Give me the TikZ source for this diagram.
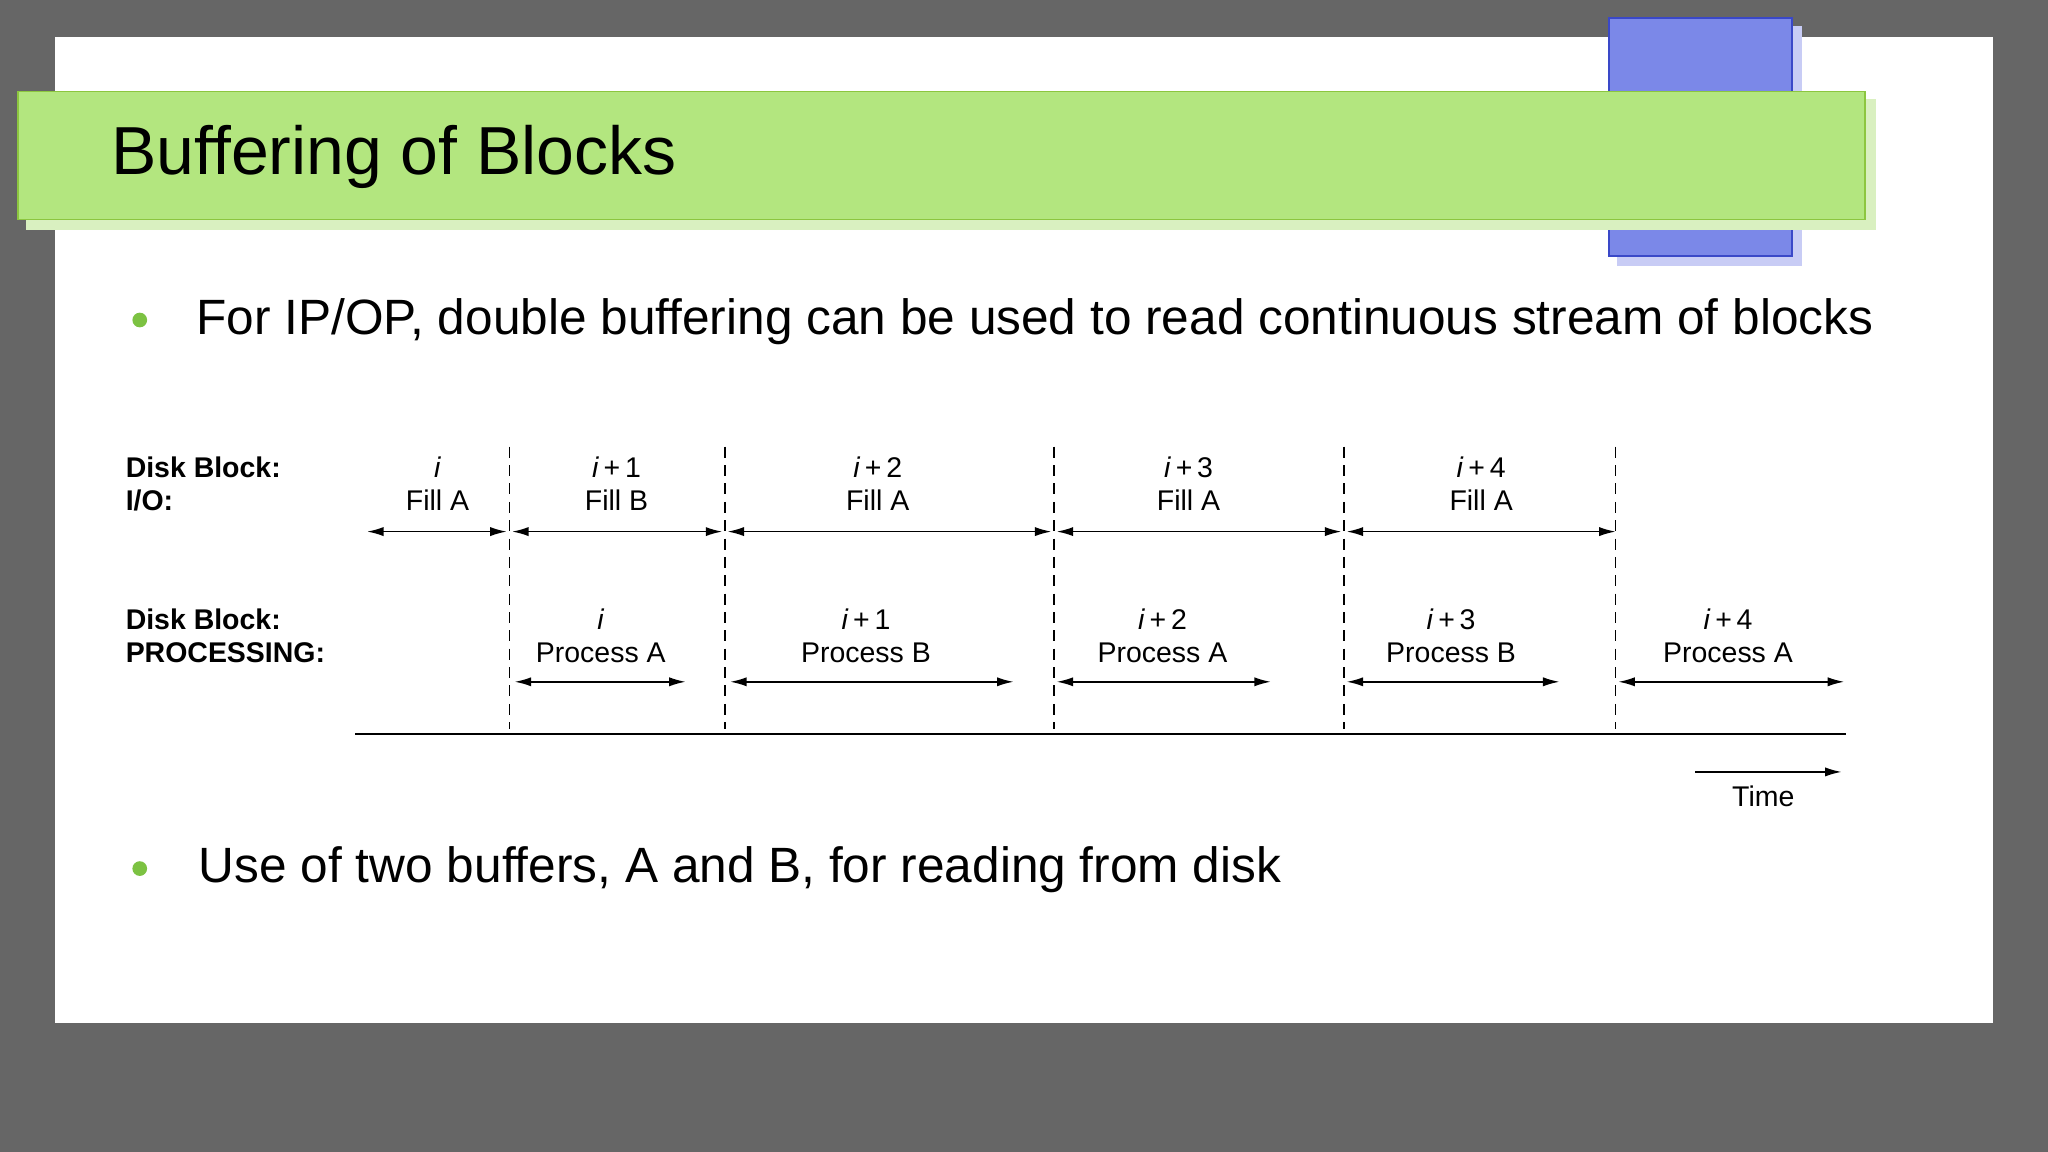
\documentclass[tikz,border=0pt]{standalone}
\usepackage{fontspec}
\setmainfont{Liberation Sans}
\usetikzlibrary{arrows.meta}
\definecolor{bgray}{HTML}{666666}
\definecolor{bgreen}{HTML}{B3E67F}
\definecolor{bgreenb}{HTML}{8CC63F}
\definecolor{bgreens}{HTML}{D9F0C0}
\definecolor{bblue}{HTML}{7B88E8}
\definecolor{bblueb}{HTML}{3A48C8}
\definecolor{bblues}{HTML}{C8CCF5}
\definecolor{dot}{HTML}{7CC242}
\tikzset{
  lbl/.style={font=\fontsize{15.5pt}{17pt}\selectfont, inner sep=0pt},
  it/.style={font=\fontsize{15.5pt}{17pt}\selectfont\itshape, inner sep=0pt},
  dur/.style={{Latex[length=9pt,width=5pt]}-{Latex[length=9pt,width=5pt]}, line width=0.9pt},
  sep/.style={dashed, line width=0.8pt, dash pattern=on 6pt off 4pt},
  bul/.style={font=\fontsize{27pt}{30pt}\selectfont, inner sep=0pt, anchor=west},
}
\begin{document}
\begin{tikzpicture}[x=0.025cm,y=-0.025cm]
\useasboundingbox (0,0) rectangle (1568,882);
\fill[bgray] (0,0) rectangle (1568,882);
\fill[white] (42,28) rectangle (1526,783);
% blue square
\fill[bblues] (1238,20) rectangle (1380,204);
\draw[bblueb, fill=bblue, line width=1pt] (1232,14) rectangle (1372,196);
% green banner
\fill[bgreens] (20,76) rectangle (1436,176);
\draw[bgreenb, fill=bgreen, line width=1pt] (14,70) rectangle (1428,168);
\node[anchor=west, inner sep=0pt, font=\fontsize{37pt}{40pt}\selectfont] (title) at (85,120) {Buffering of Blocks};
% bullets
\node[circle, fill=dot, inner sep=0pt, minimum size=8pt] (d1) at (107,245) {};
\node[bul] (b1) at (150,246) {For IP/OP, double buffering can be used to read continuous stream of blocks};
\node[circle, fill=dot, inner sep=0pt, minimum size=8pt] (d2) at (107,665) {};
\node[bul] (b2) at (152,666) {Use of two buffers, A and B, for reading from disk};
% left labels
\node[lbl, anchor=west] (l1) at (96,358) {\textbf{Disk Block:}};
\node[lbl, anchor=west] (l2) at (96,383) {\textbf{I/O:}};
\node[lbl, anchor=west] (l3) at (96,474) {\textbf{Disk Block:}};
\node[lbl, anchor=west] (l4) at (96,500) {\textbf{PROCESSING:}};
% separators
\foreach \x/\n in {390/a,555/b,807/c,1029/d,1237/e}{
  \coordinate (t\n) at (\x,342); \coordinate (u\n) at (\x,558);
  \draw[sep] (t\n) -- (u\n);
}
\coordinate (bl) at (272,562); \coordinate (br) at (1413,562);
\draw[line width=0.9pt] (bl) -- (br);
% row 1
\foreach \a/\b/\c/\t/\f [count=\k] in {281/388/335/i/Fill A,392/553/472/i + 1/Fill B,557/805/672/i + 2/Fill A,809/1027/910/i + 3/Fill A,1031/1237/1134/i + 4/Fill A}{
  \node[lbl] (ra\k) at (\c,358) {\textit{i}\ifnum\k>1 \,+\,\the\numexpr\k-1\relax\fi};
  \node[lbl] (rb\k) at (\c,383) {\f};
  \coordinate (pa\k) at (\a,407); \coordinate (qa\k) at (\b,407);
  \draw[dur] (pa\k) -- (qa\k);
}
% row 2
\foreach \a/\b/\c/\f [count=\k] in {394/525/460/Process A,559/776/663/Process B,809/973/890/Process A,1031/1194/1111/Process B,1239/1412/1323/Process A}{
  \node[lbl] (sa\k) at (\c,474) {\textit{i}\ifnum\k>1 \,+\,\the\numexpr\k-1\relax\fi};
  \node[lbl] (sb\k) at (\c,500) {\f};
  \coordinate (pb\k) at (\a,522); \coordinate (qb\k) at (\b,522);
  \draw[dur] (pb\k) -- (qb\k);
}
% time
\coordinate (ts) at (1298,591); \coordinate (te) at (1410,591);
\draw[-{Latex[length=9pt,width=5pt]}, line width=0.9pt] (ts) -- (te);
\node[lbl] (time) at (1350,610) {Time};
\end{tikzpicture}
\end{document}
